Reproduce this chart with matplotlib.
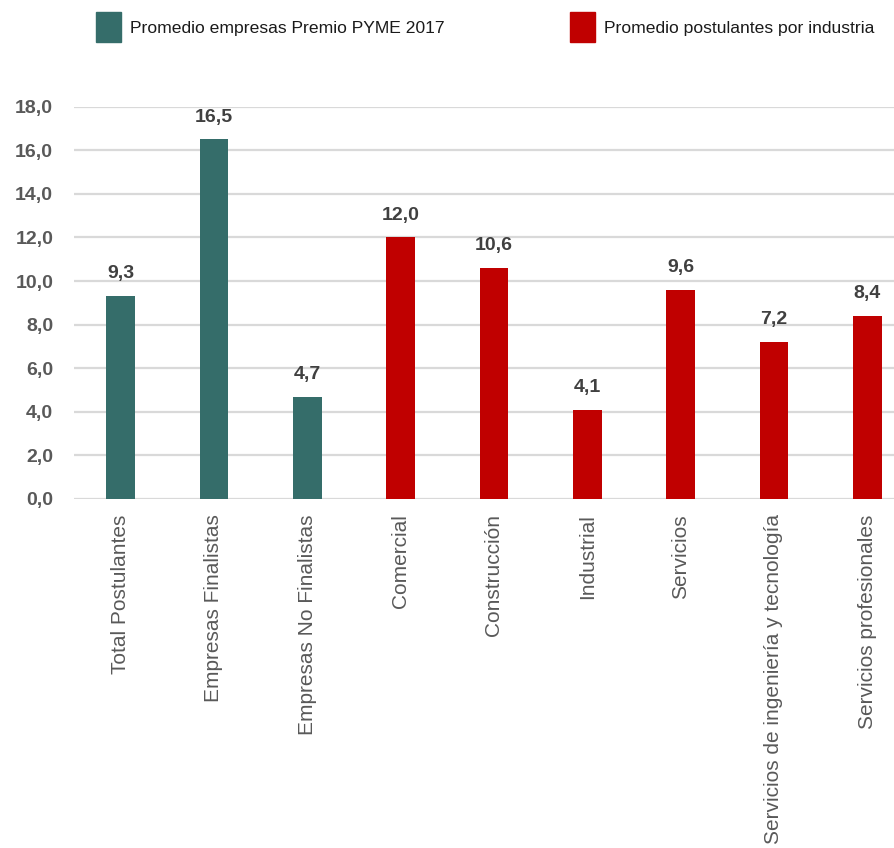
import matplotlib.pyplot as plt
from matplotlib.patches import Rectangle

# averages per group
categorias_pyme = ['Total Postulantes', 'Empresas Finalistas', 'Empresas No Finalistas']
valores_pyme = [9.3, 16.5, 4.7]
categorias_ind = ['Comercial', 'Construcción', 'Industrial', 'Servicios',
                  'Servicios de ingeniería y tecnología', 'Servicios profesionales']
valores_ind = [12.0, 10.6, 4.1, 9.6, 7.2, 8.4]
yticks = [0, 2, 4, 6, 8, 10, 12, 14, 16, 18]
leyenda = ['Promedio empresas Premio PYME 2017', 'Promedio postulantes por industria']

verde = '#356D6A'
rojo = '#C00000'
W, H = 895, 848

plt.rcParams['font.family'] = ['Liberation Sans', 'DejaVu Sans']

fig = plt.figure(figsize=(W / 100, H / 100), dpi=100)
ax = fig.add_axes([74 / W, 1 - 499 / H, 840 / W, (499 - 106.7) / H])

x_pyme = list(range(len(categorias_pyme)))
x_ind = list(range(len(categorias_pyme), len(categorias_pyme) + len(categorias_ind)))
ancho = 0.31
b1 = ax.bar(x_pyme, valores_pyme, width=ancho, color=verde, zorder=3)
b2 = ax.bar(x_ind, valores_ind, width=ancho, color=rojo, zorder=3)

for barras, vals in ((b1, valores_pyme), (b2, valores_ind)):
    for b, v in zip(barras, vals):
        ax.annotate(f'{v:.1f}'.replace('.', ','), (b.get_x() + b.get_width() / 2, v),
                    xytext=(0, 10), textcoords='offset points', ha='center', va='bottom',
                    fontsize=14, fontweight='bold', color='#404040')

ax.set_xlim(-0.5, 8.5)
ax.set_ylim(0, 18)
ax.set_yticks(yticks)
ax.set_yticklabels([f'{t:.1f}'.replace('.', ',') for t in yticks],
                   fontsize=14, fontweight='bold', color='#595959')
ax.set_xticks(x_pyme + x_ind)
ax.set_xticklabels(categorias_pyme + categorias_ind, rotation=90, fontsize=15,
                   color='#595959', va='top', ha='center')
ax.tick_params(axis='both', length=0)
ax.tick_params(axis='y', pad=15)
ax.tick_params(axis='x', pad=11)
ax.yaxis.grid(True, color='#D9D9D9', linewidth=1.6, zorder=0)
ax.set_axisbelow(True)
for s in ax.spines.values():
    s.set_visible(False)

# legend boxes drawn by hand so the tall swatches keep their size
for x0, color, texto in ((96, verde, leyenda[0]), (570, rojo, leyenda[1])):
    fig.add_artist(Rectangle((x0 / W, 1 - 42 / H), 25 / W, 30 / H,
                             transform=fig.transFigure, color=color))
    fig.text((x0 + 34) / W, 1 - 28 / H, texto, fontsize=12.6, color='#1a1a1a',
             ha='left', va='center')

fig.savefig('out.png', dpi=100)
